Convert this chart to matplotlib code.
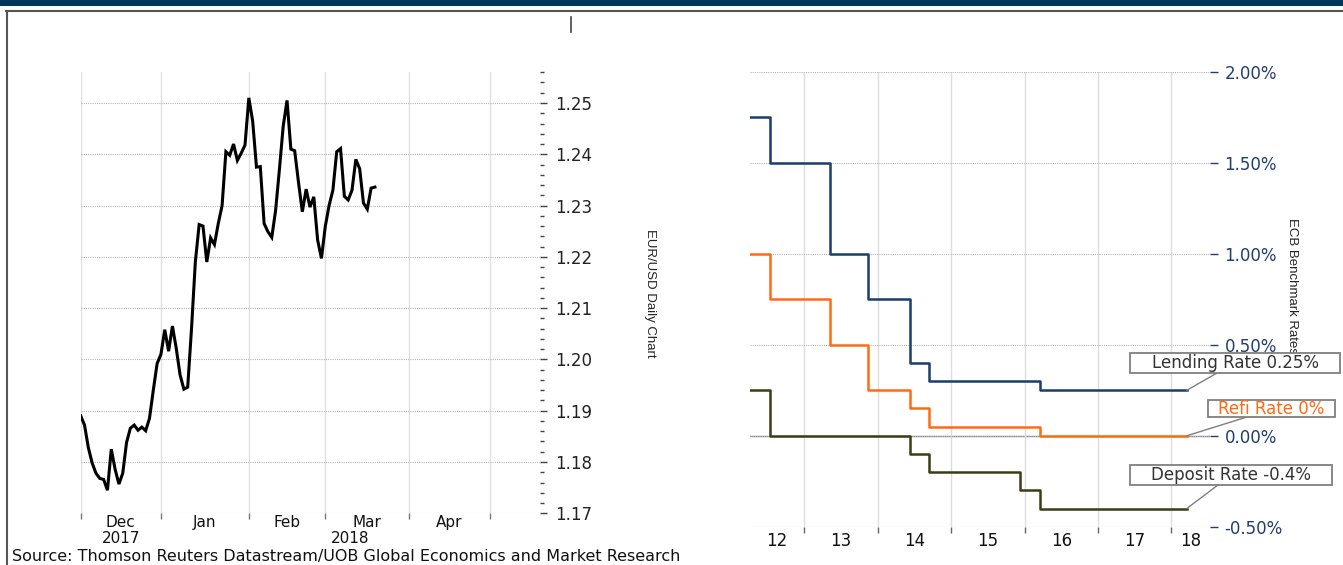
import numpy as np
import matplotlib
matplotlib.use('Agg')
from matplotlib import pyplot as plt
from matplotlib.patches import Rectangle, ConnectionPatch
from matplotlib.lines import Line2D
from matplotlib.transforms import blended_transform_factory

# EUR/USD daily close, one value per weekday starting Fri 1 Dec 2017
eurusd = [1.1890, 1.1872, 1.1828, 1.1798, 1.1778, 1.1768, 1.1766, 1.1745, 1.1825, 1.1786,
          1.1757, 1.1778, 1.1838, 1.1866, 1.1872, 1.1862, 1.1868, 1.1861, 1.1885, 1.1940,
          1.1992, 1.2010, 1.2058, 1.2016, 1.2065, 1.2022, 1.1970, 1.1942, 1.1946, 1.2060,
          1.2190, 1.2263, 1.2260, 1.2190, 1.2237, 1.2224, 1.2265, 1.2300, 1.2405, 1.2398,
          1.2420, 1.2388, 1.2402, 1.2418, 1.2510, 1.2465, 1.2375, 1.2376, 1.2265, 1.2249,
          1.2238, 1.2290, 1.2370, 1.2455, 1.2505, 1.2410, 1.2407, 1.2345, 1.2288, 1.2332,
          1.2297, 1.2317, 1.2233, 1.2197, 1.2259, 1.2300, 1.2330, 1.2405, 1.2411, 1.2318,
          1.2311, 1.2330, 1.2390, 1.2372, 1.2305, 1.2293, 1.2334, 1.2336]
month_starts = [0, 21, 44, 64, 86, 107]   # weekday index of 1st of Dec..May
month_names = ['Dec', 'Jan', 'Feb', 'Mar', 'Apr']
fx_yticks = [1.17, 1.18, 1.19, 1.20, 1.21, 1.22, 1.23, 1.24, 1.25]

# ECB policy rates (%), decimal year of each change
ecb_dates = [2012.259, 2012.525, 2013.348, 2013.866, 2014.440, 2014.692, 2015.937, 2016.205, 2018.21]
lending = [1.75, 1.50, 1.00, 0.75, 0.40, 0.30, 0.30, 0.25, 0.25]
refi = [1.00, 0.75, 0.50, 0.25, 0.15, 0.05, 0.05, 0.00, 0.00]
deposit = [0.25, 0.00, 0.00, 0.00, -0.10, -0.20, -0.30, -0.40, -0.40]
years = [2013, 2014, 2015, 2016, 2017, 2018]
year_labels = ['12', '13', '14', '15', '16', '17', '18']
rate_ticks = [-0.5, 0.0, 0.5, 1.0, 1.5, 2.0]

W, H = 1343, 565
def fx(x): return x / W
def fy(y): return 1 - y / H

plt.rcParams['font.family'] = ['DejaVu Sans']
navy = '#1f3f6f'
fig = plt.figure(figsize=(W / 100, H / 100), dpi=100)

# ---------------- left: EUR/USD ----------------
ax1 = fig.add_axes([fx(80.7), fy(513.3), fx(540) - fx(80.7), fy(71.7) - fy(513.3)])
ax1.plot(np.arange(len(eurusd)), eurusd, color='black', lw=2.2, solid_joinstyle='miter')
ax1.set_xlim(0, 120.2)
ax1.set_ylim(1.17, 1.2561)
for s in ax1.spines.values(): s.set_visible(False)
ax1.yaxis.tick_right()
ax1.set_yticks(fx_yticks)
ax1.set_yticklabels(['%.2f' % v for v in fx_yticks])
ax1.set_yticks(np.arange(1.172, 1.2565, 0.002), minor=True)
ax1.tick_params(axis='y', which='major', length=5, width=1, color='#444444', pad=6, labelsize=12, labelcolor='#222222')
ax1.tick_params(axis='y', which='minor', length=3, width=1, color='#444444')
ax1.set_xticks(month_starts)
ax1.set_xticklabels([])
mids = [(a + b) / 2 for a, b in zip(month_starts[:-1], month_starts[1:])]
ax1.set_xticks(mids, minor=True)
ax1.set_xticklabels(month_names, minor=True)
ax1.tick_params(axis='x', which='major', length=4, width=1, color='#777777')
ax1.tick_params(axis='x', which='minor', length=0, pad=1, labelsize=11, labelcolor='#111111')
ax1.grid(axis='y', which='major', ls=(0, (1, 1)), color='#b5b5b5', lw=0.8)
ax1.grid(axis='x', which='major', ls='-', color='#e0e0e0', lw=1)
bt = blended_transform_factory(ax1.transData, fig.transFigure)
ax1.text(mids[0], fy(538.5), '2017', transform=bt, ha='center', va='center', fontsize=11, color='#111111')
ax1.text((month_starts[1] + 120.2) / 2, fy(538.5), '2018', transform=bt, ha='center', va='center', fontsize=11, color='#111111')
fig.text(fx(650), fy(293.5), 'EUR/USD Daily Chart', rotation=270, ha='center', va='center',
         fontsize=9.5, color='#222222', family=['Liberation Sans', 'DejaVu Sans'])

# ---------------- right: ECB rates ----------------
ax2 = fig.add_axes([fx(750), fy(526.7), fx(1210) - fx(750), fy(72) - fy(526.7)])
x0, x1 = 2012.259, 2018.526
ax2.step(ecb_dates, lending, where='post', color='#1a3d6d', lw=1.8)
ax2.step(ecb_dates, refi, where='post', color='#ff6a13', lw=1.8)
ax2.step(ecb_dates, deposit, where='post', color='#3c3c14', lw=1.8)
ax2.axhline(0, color='#8c8c8c', lw=1, zorder=1)
ax2.set_xlim(x0, x1)
ax2.set_ylim(-0.5, 2.0)
for s in ax2.spines.values(): s.set_visible(False)
ax2.yaxis.tick_right()
ax2.set_yticks(rate_ticks)
ax2.set_yticklabels(['%.2f%%' % v for v in rate_ticks])
ax2.tick_params(axis='y', length=5.5, width=1, color=navy, pad=5, labelsize=12, labelcolor=navy)
ax2.set_xticks(years)
ax2.set_xticklabels([])
edges = [x0] + years + [x1]
ax2.set_xticks([(a + b) / 2 for a, b in zip(edges[:-1], edges[1:])], minor=True)
ax2.set_xticklabels(year_labels, minor=True)
ax2.tick_params(axis='x', which='major', length=4, width=1, color='#666666')
ax2.tick_params(axis='x', which='minor', length=0, pad=4, labelsize=12, labelcolor='#111111')
ax2.grid(axis='y', ls=(0, (1, 1)), color='#b5b5b5', lw=0.8)
ax2.grid(axis='x', which='major', ls='-', color='#dddddd', lw=1)
fig.text(fx(1292), fy(286), 'ECB Benchmark Rates', rotation=270, ha='center', va='center',
         fontsize=9.5, color='#222222', family=['Liberation Sans', 'DejaVu Sans'], zorder=3)

# label boxes with connectors
boxes = [('Lending Rate 0.25%', '#333333', (1130, 353, 1340, 373), (1217, 373), lending[-1]),
         ('Refi Rate 0%', '#ff6a13', (1207.7, 400, 1335, 417.3), (1246, 417.3), refi[-1]),
         ('Deposit Rate -0.4%', '#333333', (1130, 465, 1332, 485), (1218, 485), deposit[-1])]
for label, col, (l, t, r, b), (cx, cy), val in boxes:
    fig.add_artist(ConnectionPatch(xyA=(ecb_dates[-1], val), coordsA=ax2.transData,
                                   xyB=(fx(cx), fy(cy)), coordsB=fig.transFigure,
                                   color='#7f7f7f', lw=1, zorder=4))
    fig.add_artist(Rectangle((fx(l), fy(b)), fx(r) - fx(l), fy(t) - fy(b), transform=fig.transFigure,
                             fc='white', ec='#7f7f7f', lw=1.3, zorder=5))
    fig.text(fx((l + r) / 2), fy((t + b) / 2), label, ha='center', va='center', fontsize=12, color=col, zorder=6)

# page furniture
fig.add_artist(Rectangle((0, fy(5.5)), 1, fy(0) - fy(5.5), transform=fig.transFigure, fc='#00365a', ec='none'))
fig.add_artist(Line2D([fx(6), 1], [fy(10.5), fy(10.5)], transform=fig.transFigure, color='#555555', lw=1.5))
fig.add_artist(Line2D([fx(6.5), fx(6.5)], [fy(10.5), 0], transform=fig.transFigure, color='#555555', lw=1.5))
fig.add_artist(Line2D([fx(571), fx(571)], [fy(17), fy(32)], transform=fig.transFigure, color='#444444', lw=1.2))
fig.text(fx(12), fy(560.5), 'Source: Thomson Reuters Datastream/UOB Global Economics and Market Research',
         ha='left', va='baseline', fontsize=11.5, color='#111111')

fig.savefig('out.png', dpi=100)
